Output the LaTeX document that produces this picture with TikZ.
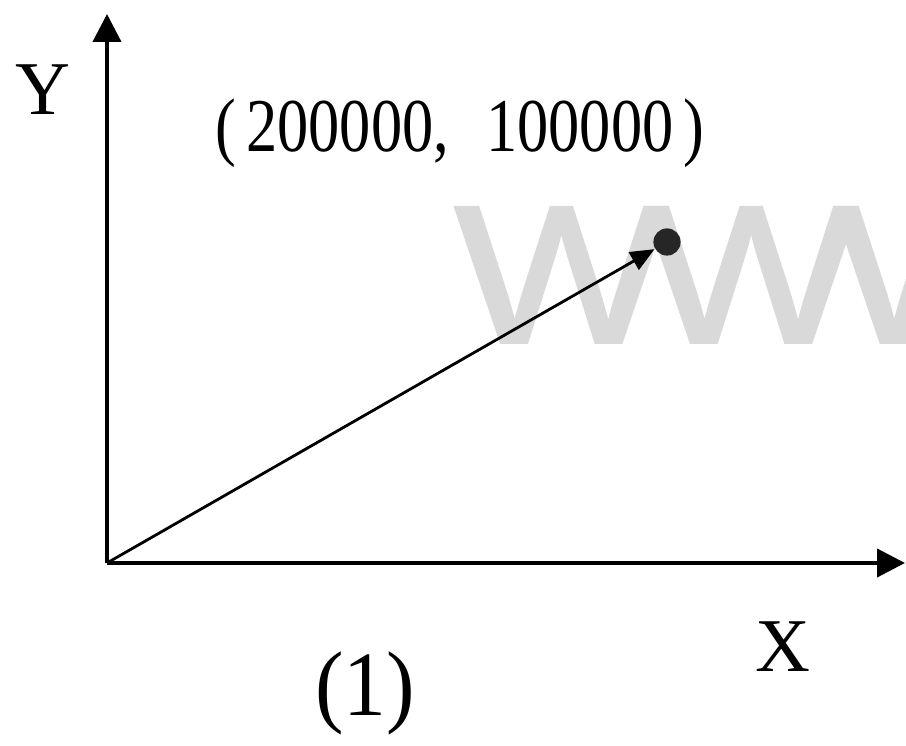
\documentclass[tikz,border=0pt]{standalone}
\usepackage{fontspec}
\setmainfont{Liberation Serif}
\newfontfamily\wmfont{Liberation Sans}[FakeBold=1.6]
\usetikzlibrary{arrows.meta,positioning,calc}

\tikzset{
	axis/.style={line width=1pt, -{Triangle[length=7pt,width=7pt]}},
	vec/.style={line width=0.7pt, -{Triangle[length=6pt,width=5pt]}},
	dot/.style={circle, fill=black!85, inner sep=0pt, minimum size=6.8pt},
	lbl/.style={inner sep=0pt, font=\fontsize{19}{22}\selectfont}
}

\begin{document}
\begin{tikzpicture}[x=0.25pt, y=0.25pt]
	\useasboundingbox (0,0) rectangle (906,746);
	% watermark
	\begin{scope}
		\clip (0,0) rectangle (906,746);
		\node[inner sep=0pt, anchor=south west, text=black!15, font=\wmfont\fontsize{49}{52}\selectfont] (wm) at (454,403) {\scalebox{1.15}[1]{W\kern-5pt W\kern-5pt W}};
	\end{scope}
	% axes
	\coordinate (O) at (107,183);
	\coordinate (xend) at (905,183);
	\coordinate (yend) at (107,732);
	\draw[axis] (O) -- (xend);
	\draw[axis] (O) -- (yend);
	% point and vector
	\node[dot] (P) at (667,504) {};
	\draw[vec] (O) -- (P);
	% labels
	\node[lbl] (ylbl) at (43,656) {Y};
	\node[lbl] (xlbl) at (783,99) {X};
	\node[lbl] (plbl) at (460,613) {\scalebox{0.82}[1]{(\,200000,\hspace{0.6em}100000\,)}};
	\node[lbl, font=\fontsize{23}{26}\selectfont] (cap) at (365,53) {\scalebox{0.93}[1]{(1)}};
\end{tikzpicture}
\end{document}
